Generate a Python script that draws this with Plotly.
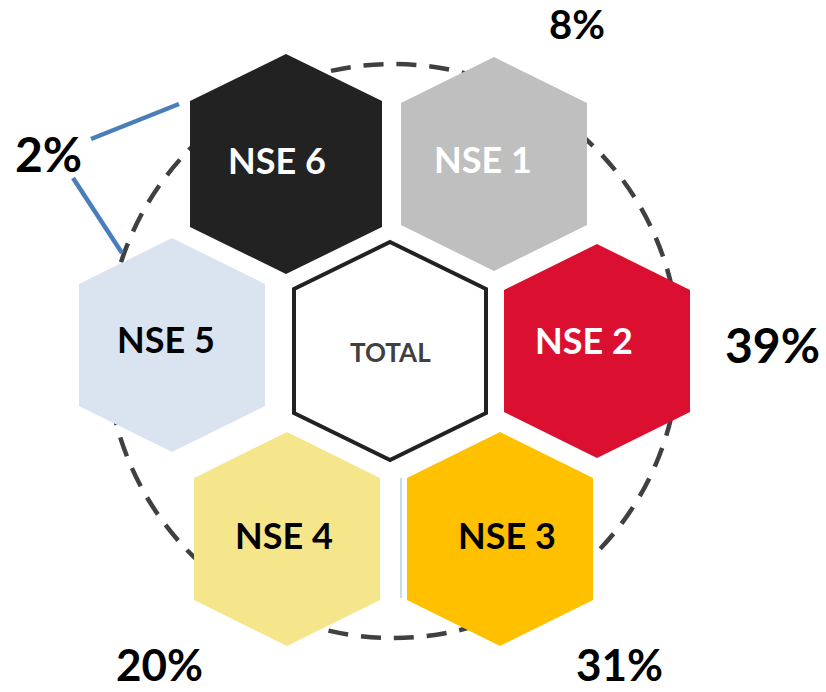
import plotly.graph_objects as go

# ---------------- data ----------------
segments = ["NSE 1", "NSE 2", "NSE 3", "NSE 4", "NSE 5", "NSE 6"]
share_groups = ["NSE 1", "NSE 2", "NSE 3", "NSE 4", "NSE 5 + NSE 6"]
share_values = [8, 39, 31, 20, 2]
center_label = "TOTAL"

# ---------------- styles ----------------
fill_colors = ["#BFBFBF", "#DB0F2F", "#FFC000", "#F5E58B", "#DAE4F1", "#222222"]
text_colors = ["#FFFFFF", "#FFFFFF", "#000000", "#000000", "#000000", "#FFFFFF"]
FONT = "Lato, 'Noto Sans', 'DejaVu Sans', sans-serif"

# ---------------- layout (pixel space) ----------------
W, H = 826, 692
hex_centers = [(494, 164), (597, 351), (500, 539), (287, 539), (172, 345), (286, 164)]
hex_sizes = [(93, 107, 61)] * 5 + [(96, 110, 63)]          # half-width, half-height, shoulder
label_pos = [(483, 159), (584, 340), (507, 535), (284, 535), (166, 339), (277, 160)]
total_center = (390, 351)
total_size = (96, 109, 62)
share_pos = [(577, 24), (772, 344), (619, 664), (159, 664), (48, 153)]
share_font = [40, 48, 44, 44, 48]


def hex_path(c, size):
    cx, cy = c
    w, h, s = size
    pts = [(cx, cy - h), (cx + w, cy - s), (cx + w, cy + s),
           (cx, cy + h), (cx - w, cy + s), (cx - w, cy - s)]
    return "M " + " L ".join(f"{x},{y}" for x, y in pts) + " Z"


fig = go.Figure()
shapes = []

# dashed circle (behind everything)
shapes.append(dict(type="circle", xref="x", yref="y", x0=393 - 286, x1=393 + 286,
                   y0=351 - 287, y1=351 + 287,
                   line=dict(color="#404040", width=4.5, dash="20px,13px"),
                   fillcolor="rgba(0,0,0,0)", layer="below"))

# connector lines for the shared 2% label
shapes.append(dict(type="line", x0=179, y0=104, x1=91, y1=139,
                   line=dict(color="#4A7EBB", width=4.5), layer="below"))
shapes.append(dict(type="line", x0=73, y0=178, x1=122, y1=253,
                   line=dict(color="#4A7EBB", width=4.5), layer="below"))
# thin vertical line between NSE 4 and NSE 3
shapes.append(dict(type="line", x0=401, y0=478, x1=401, y1=598,
                   line=dict(color="#9DC3E6", width=1.2), layer="below"))

for seg, c, sz, col in zip(segments, hex_centers, hex_sizes, fill_colors):
    shapes.append(dict(type="path", path=hex_path(c, sz), fillcolor=col,
                       line=dict(width=0), layer="above"))

shapes.append(dict(type="path", path=hex_path(total_center, total_size),
                   fillcolor="#FFFFFF", line=dict(color="#222222", width=4), layer="above"))

annotations = []
for seg, p, tc in zip(segments, label_pos, text_colors):
    annotations.append(dict(x=p[0], y=p[1], text=f"<b>{seg}</b>", showarrow=False,
                            xanchor="center", yanchor="middle",
                            font=dict(family=FONT, size=36, color=tc)))
annotations.append(dict(x=390, y=352, text=f"<b>{center_label}</b>", showarrow=False,
                        xanchor="center", yanchor="middle",
                        font=dict(family=FONT, size=26, color="#404040")))
for v, p, fs in zip(share_values, share_pos, share_font):
    annotations.append(dict(x=p[0], y=p[1], text=f"<b>{v}%</b>", showarrow=False,
                            xanchor="center", yanchor="middle",
                            font=dict(family=FONT, size=fs, color="#000000")))

fig.update_layout(
    width=W, height=H, autosize=False,
    margin=dict(l=0, r=0, t=0, b=0),
    paper_bgcolor="#FFFFFF", plot_bgcolor="#FFFFFF",
    xaxis=dict(range=[0, W], visible=False, fixedrange=True),
    yaxis=dict(range=[H, 0], visible=False, fixedrange=True),
    shapes=shapes, annotations=annotations, showlegend=False,
)

fig.write_html("out.html", config={"displayModeBar": False},
               post_script="document.body.style.margin='0';document.body.style.overflow='hidden';")
